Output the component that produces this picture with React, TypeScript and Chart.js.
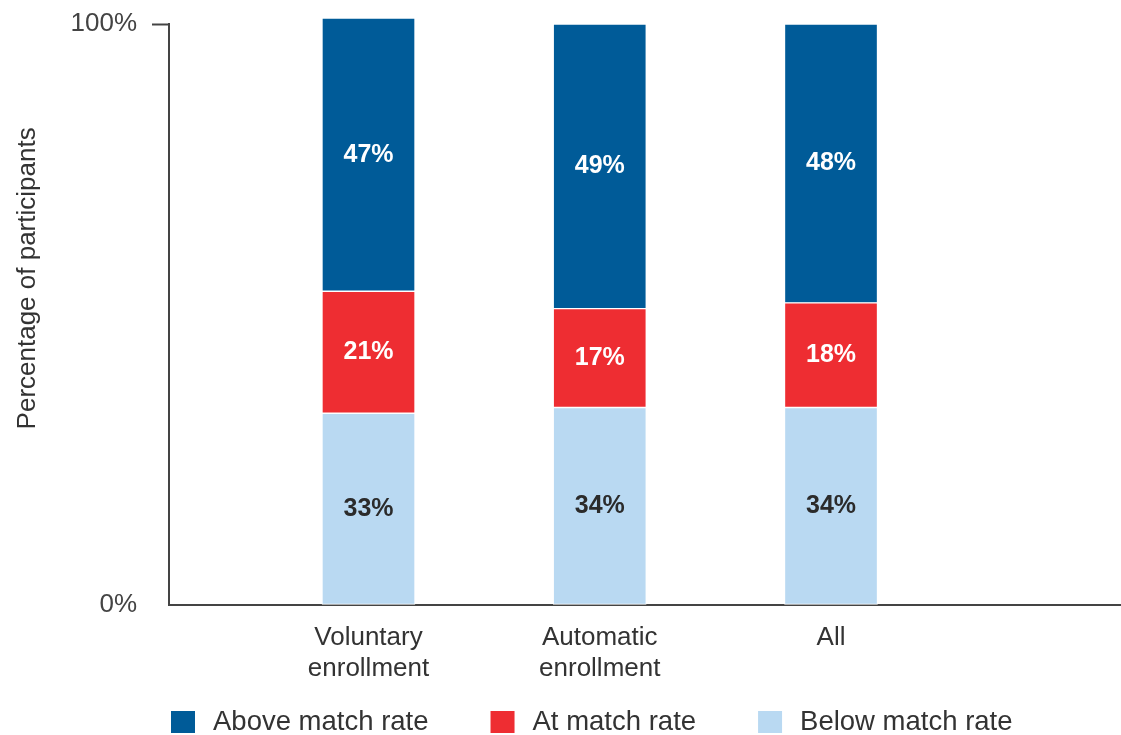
import React, { useEffect, useRef } from "react";
import { Chart, registerables } from "chart.js";

Chart.register(...registerables);

// ---- data ----
const categories: string[][] = [["Voluntary", "enrollment"], ["Automatic", "enrollment"], ["All"]];
const categoryPositions = [1, 2, 3];
const belowValues = [33, 34, 34];
const atValues = [21, 17, 18];
const aboveValues = [47, 49, 48];
const seriesNames = ["Below match rate", "At match rate", "Above match rate"];
const yTickValues = [0, 100];
const yTitle = "Percentage of participants";

const FONT = '"Liberation Sans", Arial, Helvetica, sans-serif';
const seriesColors = ["#b9d9f2", "#ee2d32", "#005b98"];
const labelColors = ["#2b2b2b", "#ffffff", "#ffffff"];

const segmentLabels = {
  id: "segmentLabels",
  afterDatasetsDraw(chart: any) {
    const ctx = chart.ctx;
    ctx.save();
    ctx.font = `bold 25px ${FONT}`;
    ctx.textAlign = "center";
    ctx.textBaseline = "middle";
    chart.data.datasets.forEach((ds: any, di: number) => {
      const meta = chart.getDatasetMeta(di);
      meta.data.forEach((el: any, i: number) => {
        const v = ds.data[i].y;
        ctx.fillStyle = labelColors[di];
        ctx.fillText(`${v}%`, el.x, (el.y + el.base) / 2);
      });
    });
    ctx.restore();
  },
};

const bottomLegend = {
  id: "bottomLegend",
  afterDraw(chart: any) {
    const ctx = chart.ctx;
    ctx.save();
    ctx.font = `27.5px ${FONT}`;
    ctx.textBaseline = "middle";
    ctx.textAlign = "left";
    const cy = 722;
    let x = 171;
    const order = chart.data.datasets.map((_: any, i: number) => i).reverse();
    order.forEach((di: number) => {
      const ds = chart.data.datasets[di];
      ctx.fillStyle = ds.backgroundColor;
      ctx.fillRect(x, cy - 11, 24, 22);
      x += 24 + 18;
      ctx.fillStyle = "#333333";
      ctx.fillText(ds.label, x, cy);
      x += ctx.measureText(ds.label).width + 62;
    });
    ctx.restore();
  },
};

export default function App() {
  const canvasRef = useRef<HTMLCanvasElement | null>(null);

  useEffect(() => {
    if (!canvasRef.current) return;
    Chart.defaults.font.family = FONT;
    const series = [belowValues, atValues, aboveValues];
    const chart = new Chart(canvasRef.current, {
      type: "bar",
      data: {
        datasets: series.map((vals, si) => ({
          label: seriesNames[si],
          data: vals.map((v, i) => ({ x: categoryPositions[i], y: v })),
          backgroundColor: seriesColors[si],
          borderColor: "#ffffff",
          borderWidth: 1,
          borderSkipped: false,
          barThickness: 93,
          clip: false as any,
        })),
      },
      options: {
        animation: false,
        responsive: true,
        maintainAspectRatio: false,
        layout: { padding: { top: 24, left: 0, right: 0, bottom: 0 } },
        plugins: {
          legend: { display: false },
          tooltip: { enabled: false },
        },
        scales: {
          x: {
            type: "linear",
            stacked: true,
            offset: false,
            min: 0.1373,
            max: 4.254,
            grid: { display: false, drawTicks: false, offset: false },
            border: { display: true, color: "#444444", width: 2 },
            afterBuildTicks: (scale: any) => {
              scale.ticks = categoryPositions.map((v) => ({ value: v }));
            },
            afterFit: (scale: any) => {
              scale.height = 130;
              scale.paddingLeft = 0;
              scale.paddingRight = 0;
            },
            ticks: {
              padding: 17,
              color: "#333333",
              font: { size: 26 },
              maxRotation: 0,
              autoSkip: false,
              callback: (value: any) => {
                const idx = categoryPositions.indexOf(Number(value));
                return idx >= 0 ? categories[idx] : "";
              },
            },
          },
          y: {
            stacked: true,
            min: 0,
            max: 100,
            grid: {
              drawOnChartArea: false,
              drawTicks: true,
              tickLength: 17,
              tickWidth: 2,
              tickColor: (c: any) => (c.tick && c.tick.value === 100 ? "#444444" : "rgba(0,0,0,0)"),
            },
            border: { display: true, color: "#444444", width: 2 },
            afterBuildTicks: (scale: any) => {
              scale.ticks = yTickValues.map((v) => ({ value: v }));
            },
            afterFit: (scale: any) => {
              scale.width = 169;
              scale.paddingTop = 0;
              scale.paddingBottom = 0;
            },
            title: {
              display: true,
              text: " ".repeat(10) + yTitle,
              color: "#333333",
              font: { size: 26 },
              padding: { top: 12, bottom: 0 },
            },
            ticks: {
              padding: 15,
              color: "#444444",
              font: { size: 26 },
              callback: (v: any) => `${v}%`,
            },
          },
        },
      },
      plugins: [segmentLabels, bottomLegend],
    } as any);
    return () => chart.destroy();
  }, []);

  return (
    <div
      style={{
        position: "fixed",
        left: 0,
        top: 0,
        width: 1121,
        height: 735,
        background: "#ffffff",
      }}
    >
      <canvas ref={canvasRef} />
    </div>
  );
}
